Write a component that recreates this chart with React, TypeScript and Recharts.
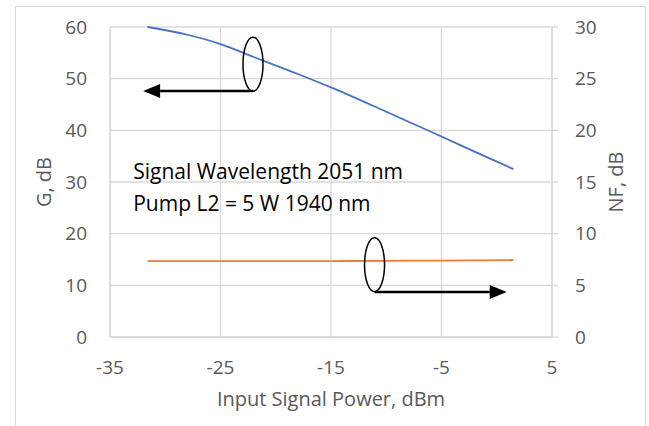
import {
  ComposedChart, Line, XAxis, YAxis, CartesianGrid, ReferenceLine, ReferenceDot, Label,
} from "recharts";

const inputPower = [-31.6, -28, -25, -22, -18, -15, -10, -5, -1, 1.5];
const gain = [60, 58.5, 56.7, 54.2, 50.9, 48.3, 43.6, 38.8, 34.9, 32.5];
const noiseFigure = [7.35, 7.35, 7.35, 7.35, 7.35, 7.35, 7.37, 7.4, 7.42, 7.45];

const xTicks = [-35, -25, -15, -5, 5];
const gTicks = [0, 10, 20, 30, 40, 50, 60];
const nfTicks = [0, 5, 10, 15, 20, 25, 30];

const noteLines = ["Signal Wavelength 2051 nm", "Pump L2 = 5 W 1940 nm"];

const FONT = "'Open Sans', sans-serif";
const GREY = "#595959";
const GRID = "#d9d9d9";

const data = inputPower.map((p, i) => ({ p, g: gain[i], nf: noiseFigure[i] }));

const tickStyle = { fill: GREY, fontSize: 19, fontFamily: FONT };

// ellipse marking which curve belongs to which axis
const Ellipse = (props: any) => (
  <ellipse cx={props.cx} cy={props.cy} rx={10} ry={27} fill="none" stroke="#000" strokeWidth={1.5} />
);

// thick arrow with a filled triangular head at (x2, y2)
const Arrow = (props: any) => {
  const { x1, y1, x2, y2 } = props;
  const dir = x2 > x1 ? 1 : -1;
  const base = x2 - dir * 17;
  return (
    <g>
      <line x1={x1} y1={y1} x2={base} y2={y2} stroke="#000" strokeWidth={2.5} />
      <polygon points={`${x2},${y2} ${base},${y2 - 7} ${base},${y2 + 7}`} fill="#000" />
    </g>
  );
};

const Note = (props: any) => (
  <text x={props.cx} y={props.cy} fontFamily={FONT} fontSize={21} fill="#000">
    {noteLines.map((t, i) => (
      <tspan key={i} x={props.cx} dy={i === 0 ? 0 : 32}>{t}</tspan>
    ))}
  </text>
);

export default function App() {
  return (
    <div style={{ position: "absolute", left: 0, top: 0, width: 649, height: 426, overflow: "hidden", background: "#fff" }}>
      <div style={{ position: "absolute", left: 15, top: 6, width: 629, height: 440, border: `1px solid ${GRID}` }} />
      <ComposedChart
        width={649}
        height={426}
        data={data}
        margin={{ top: 27, right: 37, left: 50, bottom: 39 }}
        style={{ position: "absolute", left: 0, top: 0 }}
      >
        <CartesianGrid yAxisId="g" stroke={GRID} strokeWidth={1.3} />
        <XAxis
          dataKey="p"
          type="number"
          domain={[-35, 5]}
          ticks={xTicks}
          height={50}
          axisLine={{ stroke: GRID, strokeWidth: 1.3 }}
          tickLine={false}
          tickMargin={18}
          tick={tickStyle}
        >
          <Label
            content={({ viewBox }: any) => (
              <text x={viewBox.x + viewBox.width / 2} y={viewBox.y + 69} textAnchor="middle" fontFamily={FONT} fontSize={20} fill={GREY}>
                Input Signal Power, dBm
              </text>
            )}
          />
        </XAxis>
        <YAxis
          yAxisId="g"
          domain={[0, 60]}
          ticks={gTicks}
          width={60}
          axisLine={{ stroke: GRID, strokeWidth: 1.3 }}
          tickLine={false}
          tickMargin={17}
          tick={tickStyle}
        >
          <Label
            content={({ viewBox }: any) => {
              const x = viewBox.x - 7;
              const y = viewBox.y + viewBox.height / 2;
              return (
                <text x={x} y={y} transform={`rotate(-90, ${x}, ${y})`} textAnchor="middle" dominantBaseline="central" fontFamily={FONT} fontSize={20} fill={GREY}>
                  G, dB
                </text>
              );
            }}
          />
        </YAxis>
        <YAxis
          yAxisId="nf"
          orientation="right"
          domain={[0, 30]}
          ticks={nfTicks}
          width={60}
          axisLine={{ stroke: GRID, strokeWidth: 1.3 }}
          tickLine={{ stroke: GRID, strokeWidth: 1.3 }}
          tickMargin={17}
          tick={tickStyle}
        >
          <Label
            content={({ viewBox }: any) => {
              const x = viewBox.x + 63;
              const y = viewBox.y + viewBox.height / 2;
              return (
                <text x={x} y={y} transform={`rotate(-90, ${x}, ${y})`} textAnchor="middle" dominantBaseline="central" fontFamily={FONT} fontSize={20} fill={GREY}>
                  NF, dB
                </text>
              );
            }}
          />
        </YAxis>
        <Line yAxisId="g" type="monotone" dataKey="g" stroke="#4472C4" strokeWidth={1.8} dot={false} isAnimationActive={false} />
        <Line yAxisId="nf" type="monotone" dataKey="nf" stroke="#ED7D31" strokeWidth={1.8} dot={false} isAnimationActive={false} />

        <ReferenceDot yAxisId="g" x={-22.06} y={52.8} shape={Ellipse} />
        <ReferenceLine yAxisId="g" segment={[{ x: -22.06, y: 47.6 }, { x: -32, y: 47.6 }]} shape={Arrow} />
        <ReferenceDot yAxisId="nf" x={-11.06} y={7.0} shape={Ellipse} />
        <ReferenceLine yAxisId="nf" segment={[{ x: -11.06, y: 4.35 }, { x: 0.9, y: 4.35 }]} shape={Arrow} />
        <ReferenceDot yAxisId="g" x={-32.9} y={30.6} shape={Note} />
      </ComposedChart>
    </div>
  );
}
